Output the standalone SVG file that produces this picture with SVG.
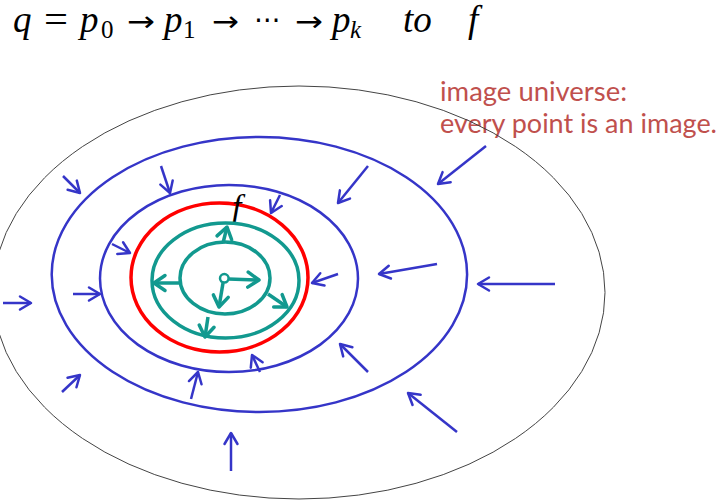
<svg xmlns="http://www.w3.org/2000/svg" width="725" height="502" viewBox="0 0 725 502">
<style>
.mi{font-family:"Liberation Serif","DejaVu Serif",serif;font-style:italic;fill:#000}
.mu{font-family:"Liberation Serif","DejaVu Serif",serif;font-style:normal;fill:#000}
.ar{font-family:"DejaVu Sans",sans-serif;font-size:28px;fill:#000}
.note{font-family:Lato,"Liberation Sans",sans-serif;font-size:27px;fill:#c0504d}
.blue{fill:none;stroke:#3535c8;stroke-width:2.5}
.red{fill:none;stroke:#ff0000;stroke-width:3.5}
.teal{fill:none;stroke:#12998f;stroke-width:3.5}
.univ{fill:none;stroke:#444;stroke-width:1}
.ba{fill:none;stroke:#3535c8;stroke-width:2.5;marker-end:url(#bh)}
.ta{fill:none;stroke:#12998f;stroke-width:3.5;marker-end:url(#th)}
</style>
<defs>
<marker id="bh" markerUnits="userSpaceOnUse" viewBox="-14 -10 17 20" markerWidth="17" markerHeight="20" refX="0" refY="0" orient="auto">
<path d="M-11,-6.5 L0,0 L-11,6.5" fill="none" stroke="#3535c8" stroke-width="2.5" stroke-linecap="round" stroke-linejoin="round"/>
</marker>
<marker id="th" markerUnits="userSpaceOnUse" viewBox="-15 -11 19 22" markerWidth="19" markerHeight="22" refX="0" refY="0" orient="auto">
<path d="M-11,-7.5 L0,0 L-11,7.5" fill="none" stroke="#12998f" stroke-width="3.5" stroke-linecap="round" stroke-linejoin="round"/>
</marker>
</defs>
<rect width="725" height="502" fill="#fff"/>

<g id="title">
<text class="mi" x="13" y="32" font-size="37">q</text>
<text class="mu" x="44" y="32" font-size="37" textLength="24" lengthAdjust="spacingAndGlyphs">=</text>
<text class="mi" x="80" y="32" font-size="37">p</text>
<text class="mu" x="101" y="38" font-size="25">0</text>
<text class="ar" x="127" y="31" textLength="28" lengthAdjust="spacingAndGlyphs">→</text>
<text class="mi" x="164" y="32" font-size="37">p</text>
<text class="mu" x="183" y="38" font-size="25">1</text>
<text class="ar" x="212" y="31" textLength="27" lengthAdjust="spacingAndGlyphs">→</text>
<text class="ar" x="254" y="29" textLength="27" lengthAdjust="spacingAndGlyphs">⋯</text>
<text class="ar" x="295" y="31" textLength="28" lengthAdjust="spacingAndGlyphs">→</text>
<text class="mi" x="332" y="32" font-size="37">p</text>
<text class="mi" x="350" y="38" font-size="25">k</text>
<text class="mi" x="403" y="32" font-size="37">to</text>
<text class="mi" x="468" y="32" font-size="37">f</text>
</g>

<g id="note">
<text class="note" x="440" y="101" textLength="187" lengthAdjust="spacingAndGlyphs">image universe:</text>
<text class="note" x="440" y="133" textLength="277" lengthAdjust="spacingAndGlyphs">every point is an image.</text>
</g>

<g id="universe"><ellipse class="univ" cx="299" cy="292.5" rx="306" ry="206.5"/></g>
<g id="blue-outer"><ellipse class="blue" cx="259.4" cy="274.5" rx="207.7" ry="137.5"/></g>
<g id="blue-inner"><ellipse class="blue" cx="229" cy="278.5" rx="129" ry="93.5"/></g>
<g id="red-f"><ellipse class="red" cx="219.5" cy="277.5" rx="88.5" ry="74.5"/>
<text class="mi" x="232" y="218" font-size="34">f</text></g>
<g id="teal-outer"><ellipse class="teal" cx="225.5" cy="280.5" rx="73.5" ry="57.5"/></g>
<g id="teal-inner"><ellipse class="teal" cx="225" cy="278" rx="45" ry="36"/></g>
<g id="q-point"><circle cx="224.3" cy="278.3" r="4.3" fill="#fff" stroke="#12998f" stroke-width="2.5"/></g>

<g id="connectors">
<line class="ba" x1="63" y1="176" x2="80" y2="193"/>
<line class="ba" x1="3" y1="303" x2="31" y2="303"/>
<line class="ba" x1="62" y1="392" x2="80" y2="375"/>
<line class="ba" x1="486" y1="146" x2="438" y2="184"/>
<line class="ba" x1="555" y1="284" x2="478" y2="284"/>
<line class="ba" x1="457" y1="432" x2="408" y2="393"/>
<line class="ba" x1="231" y1="471" x2="231" y2="433"/>
<line class="ba" x1="73" y1="294" x2="100" y2="294"/>
<line class="ba" x1="161" y1="166" x2="170" y2="193"/>
<line class="ba" x1="368" y1="166" x2="338" y2="203"/>
<line class="ba" x1="437" y1="264" x2="379" y2="274"/>
<line class="ba" x1="368" y1="372" x2="340" y2="344"/>
<line class="ba" x1="191" y1="399" x2="198" y2="372"/>
<line class="ba" x1="112" y1="244" x2="130" y2="253"/>
<line class="ba" x1="280" y1="195" x2="271" y2="213"/>
<line class="ba" x1="338" y1="274" x2="312" y2="283"/>
<line class="ba" x1="260" y1="372" x2="252" y2="355"/>

<line class="ta" x1="228.5" y1="279" x2="259" y2="280"/>
<line class="ta" x1="223" y1="283" x2="219" y2="307"/>
<line class="ta" x1="223" y1="243" x2="227" y2="227"/>
<line class="ta" x1="180" y1="283" x2="154" y2="283"/>
<line class="ta" x1="268" y1="294" x2="287" y2="307"/>
<line class="ta" x1="208" y1="317" x2="205" y2="337"/>
</g>
</svg>
